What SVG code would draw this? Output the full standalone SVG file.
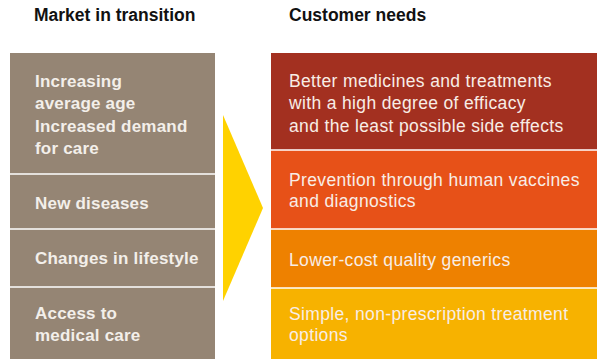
<svg xmlns="http://www.w3.org/2000/svg" width="598" height="359" viewBox="0 0 598 359">
<style>
.h{font-family:"Liberation Sans",Arial,sans-serif;font-weight:bold;font-size:17.5px;fill:#111}
.l{font-family:"Liberation Sans",Arial,sans-serif;font-weight:bold;font-size:17px;letter-spacing:0.2px;fill:#F3EFEA}
.r{font-family:"Liberation Sans",Arial,sans-serif;font-size:17.5px;letter-spacing:0.35px;fill:#F8EDE6}
.sep{stroke:#FFFFFF;stroke-width:1.6}
</style>
<rect width="598" height="359" fill="#FFFFFF"/>
<text class="h" x="34" y="21">Market in transition</text>
<text class="h" x="289" y="21">Customer needs</text>

<g id="market">
<rect x="10" y="53" width="205" height="306" fill="#958574"/>
<g id="m1"><text class="l" x="35" y="87">Increasing</text><text class="l" x="35" y="109">average age</text><text class="l" x="35" y="132">Increased demand</text><text class="l" x="35" y="154">for care</text></g>
<g id="m2"><text class="l" x="35" y="209">New diseases</text></g>
<g id="m3"><text class="l" x="35" y="264">Changes in lifestyle</text></g>
<g id="m4"><text class="l" x="35" y="319">Access to</text><text class="l" x="35" y="341">medical care</text></g>
<line class="sep" x1="10" y1="174" x2="215" y2="174"/>
<line class="sep" x1="10" y1="229" x2="215" y2="229"/>
<line class="sep" x1="10" y1="287" x2="215" y2="287"/>
</g>

<g id="connectors">
<polygon id="arrow" points="223,115 263,208 223,301" fill="#FFD200"/>
</g>

<g id="needs">
<g id="n1"><rect x="271" y="53" width="326" height="97" fill="#A33020"/>
<text class="r" x="289" y="87">Better medicines and treatments</text><text class="r" x="289" y="109">with a high degree of efficacy</text><text class="r" x="289" y="132">and the least possible side effects</text></g>
<g id="n2"><rect x="271" y="150" width="326" height="79" fill="#E75118"/>
<text class="r" x="289" y="186">Prevention through human vaccines</text><text class="r" x="289" y="207">and diagnostics</text></g>
<g id="n3"><rect x="271" y="229" width="326" height="59" fill="#EE8100"/>
<text class="r" x="289" y="266">Lower-cost quality generics</text></g>
<g id="n4"><rect x="271" y="288" width="326" height="71" fill="#F7B200"/>
<text class="r" x="289" y="320">Simple, non-prescription treatment</text><text class="r" x="289" y="341">options</text></g>
<line class="sep" x1="271" y1="150" x2="597" y2="150"/>
<line class="sep" x1="271" y1="229" x2="597" y2="229"/>
<line class="sep" x1="271" y1="288" x2="597" y2="288"/>
</g>
</svg>
